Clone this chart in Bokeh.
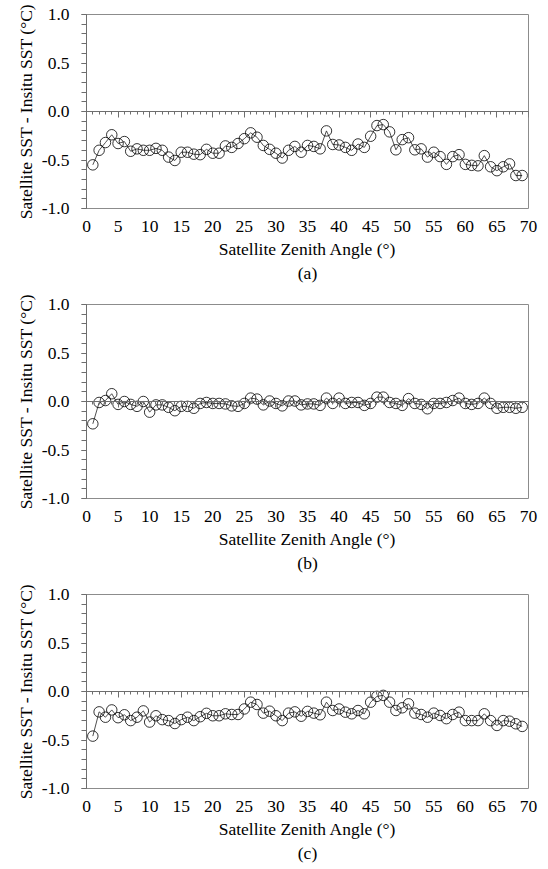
from bokeh.plotting import figure
from bokeh.layouts import column
from bokeh.models import Range1d, LinearAxis, FixedTicker, NumeralTickFormatter, Title
from bokeh.embed import file_html
from bokeh.resources import INLINE

angle = list(range(1, 70))

bias_a = [-0.55, -0.40, -0.32, -0.24, -0.33, -0.31, -0.41, -0.385, -0.40, -0.40,
          -0.38, -0.40, -0.47, -0.505, -0.42, -0.42, -0.44, -0.445, -0.39, -0.43,
          -0.43, -0.355, -0.37, -0.33, -0.28, -0.22, -0.265, -0.35, -0.39, -0.43,
          -0.48, -0.40, -0.36, -0.42, -0.35, -0.36, -0.385, -0.20, -0.34, -0.345,
          -0.37, -0.40, -0.335, -0.37, -0.255, -0.145, -0.135, -0.21, -0.395, -0.29,
          -0.27, -0.395, -0.385, -0.47, -0.42, -0.465, -0.545, -0.465, -0.445, -0.545,
          -0.555, -0.56, -0.455, -0.57, -0.61, -0.57, -0.54, -0.66, -0.66]

bias_b = [-0.23, -0.01, 0.01, 0.08, -0.03, 0.0, -0.03, -0.05, 0.0, -0.11,
          -0.035, -0.035, -0.06, -0.095, -0.05, -0.05, -0.07, -0.02, -0.01, -0.02,
          -0.02, -0.025, -0.045, -0.05, -0.02, 0.035, 0.025, -0.035, 0.005, -0.02,
          -0.045, 0.005, 0.005, -0.035, -0.025, -0.025, -0.04, 0.035, -0.02, 0.035,
          -0.02, -0.01, -0.01, -0.04, -0.02, 0.045, 0.045, -0.01, -0.02, -0.04,
          0.03, -0.02, -0.03, -0.075, -0.02, -0.02, -0.01, 0.01, 0.035, -0.02,
          -0.03, -0.02, 0.035, -0.02, -0.07, -0.06, -0.06, -0.07, -0.06]

bias_c = [-0.46, -0.21, -0.265, -0.19, -0.27, -0.24, -0.30, -0.265, -0.20, -0.315,
          -0.25, -0.29, -0.30, -0.33, -0.29, -0.265, -0.30, -0.26, -0.225, -0.25,
          -0.25, -0.23, -0.237, -0.237, -0.18, -0.11, -0.134, -0.223, -0.203, -0.25,
          -0.30, -0.223, -0.21, -0.255, -0.205, -0.223, -0.24, -0.11, -0.196, -0.18,
          -0.213, -0.23, -0.196, -0.23, -0.11, -0.05, -0.04, -0.11, -0.196, -0.168,
          -0.127, -0.223, -0.237, -0.265, -0.223, -0.247, -0.28, -0.237, -0.213, -0.30,
          -0.30, -0.30, -0.23, -0.30, -0.35, -0.30, -0.306, -0.333, -0.36]

panel_tags = ["(a)", "(b)", "(c)"]
x_title = "Satellite Zenith Angle (°)"
y_title = "Satellite SST - Insitu SST (°C)"
x_major = list(range(0, 71, 5))
x_minor = list(range(0, 71, 1))
y_major = [-1.0, -0.5, 0.0, 0.5, 1.0]
y_minor = [round(-1.0 + 0.1 * i, 1) for i in range(21)]

FONT = "Liberation Serif"
FSIZE = "17.5px"
AXIS_GREY = "#6e6e6e"


def title(text, standoff):
    return Title(text=text, align="center", text_font=FONT, text_font_size=FSIZE,
                 text_font_style="normal", text_color="black", standoff=standoff)


def make_panel(values, tag, height, top, bottom):
    p = figure(width=540, height=height, output_backend="svg", toolbar_location=None,
               x_range=Range1d(0, 70), y_range=Range1d(-1, 1),
               min_border_left=86, min_border_right=12, min_border_top=top,
               min_border_bottom=bottom)
    p.xgrid.visible = False
    p.ygrid.visible = False
    p.outline_line_color = "#8c8c8c"
    p.outline_line_width = 1
    p.background_fill_color = "white"
    p.border_fill_color = "white"

    # bottom: tick labels only
    xa = p.xaxis[0]
    xa.ticker = FixedTicker(ticks=x_major)
    xa.axis_line_color = None
    xa.major_tick_line_color = None
    xa.minor_tick_line_color = None
    xa.major_label_standoff = 6

    # left axis
    ya = p.yaxis[0]
    ya.ticker = FixedTicker(ticks=y_major, minor_ticks=y_minor)
    ya.formatter = NumeralTickFormatter(format="0.0")
    ya.axis_line_color = AXIS_GREY
    ya.major_tick_line_color = AXIS_GREY
    ya.minor_tick_line_color = AXIS_GREY
    ya.major_tick_out = 5
    ya.major_tick_in = 0
    ya.minor_tick_out = 5
    ya.minor_tick_in = 0
    ya.major_label_standoff = 12

    for ax in (xa, ya):
        ax.major_label_text_font = FONT
        ax.major_label_text_font_size = FSIZE
        ax.major_label_text_font_style = "normal"
        ax.major_label_text_color = "black"

    # crossing axis at y = 0 (long ticks every 5, short ticks every 1, no labels)
    for ticks, length in ((x_major, 6), (x_minor, 3)):
        za = LinearAxis(fixed_location=0, ticker=FixedTicker(ticks=[], minor_ticks=ticks))
        za.axis_line_color = AXIS_GREY
        za.minor_tick_line_color = AXIS_GREY
        za.minor_tick_in = length
        za.minor_tick_out = 0
        za.major_tick_in = 0
        za.major_tick_out = 0
        za.major_label_standoff = 0
        p.add_layout(za, "above")

    p.line(angle, values, line_color="#222222", line_width=0.8)
    p.scatter(angle, values, marker="circle", size=10.5, fill_color=None,
              line_color="black", line_width=0.8)

    p.add_layout(title(x_title, 4), "below")
    p.add_layout(title(tag, 0), "below")
    p.add_layout(title(y_title, 6), "left")
    return p


pa = make_panel(bias_a, panel_tags[0], 290, 14, 82)
pb = make_panel(bias_b, panel_tags[1], 290, 14, 82)
pc = make_panel(bias_c, panel_tags[2], 288, 14, 80)

layout = column(pa, pb, pc, spacing=0)
open("out.html", "w").write(file_html(layout, INLINE))
